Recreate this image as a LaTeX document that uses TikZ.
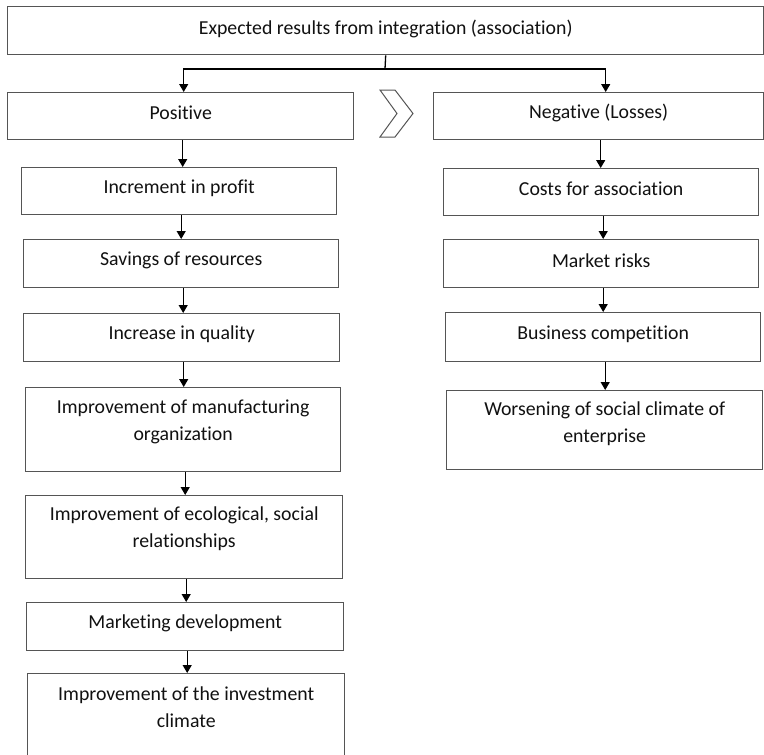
\documentclass[tikz,border=0pt]{standalone}
\usepackage{fontspec}
\setmainfont{Carlito}[Ligatures=NoCommon]
\usetikzlibrary{arrows.meta}

\definecolor{boxgray}{HTML}{555555}
\definecolor{inkgray}{HTML}{111111}

\tikzset{
  box/.style={draw=boxgray, line width=1.4pt, inner sep=0pt, anchor=north west},
  lbl/.style={inner sep=0pt, align=center, text=inkgray,
              font=\fontsize{19.8}{27}\selectfont},
  wire/.style={line width=1.3pt, black},
  arr/.style={wire, -{Triangle[width=9pt,length=8pt]}},
}

% name, x1, y1, x2, y2, text lift, text
\newcommand\flowbox[7]{%
  \node[box, minimum width={#4-#2}, minimum height={#5-#3}] (#1) at (#2,#3) {};
  \node[lbl] (#1-txt) at ([yshift=#6]#1.center) {#7};
}

\begin{document}
\begin{tikzpicture}[x=1pt, y=-1pt]
  \clip (0,0) rectangle (764,755);
  \fill[white] (0,0) rectangle (764,755);

  % heading
  \flowbox{top}{7}{6}{763}{54}{2pt}{Expected results from integration (association)}

  % the two branches
  \flowbox{pos}{7}{92}{353}{139}{3pt}{Positive}
  \flowbox{neg}{433}{92}{763}{139}{3pt}{Negative (Losses)}

  % separator chevron between the branches
  \draw[boxgray, line width=1pt, line join=miter]
    (380,90) -- (395,90) -- (413,113.5) -- (395,137) -- (380,137) -- (397,113.5) -- cycle;

  % positive effects
  \flowbox{inc}{21}{167}{336}{214}{3pt}{Increment in profit}
  \flowbox{sav}{23}{239}{338}{287}{3pt}{Savings of resources}
  \flowbox{qual}{23}{313}{339}{361}{3pt}{Increase in quality}
  \flowbox{manu}{25}{387}{340}{471}{7.5pt}{Improvement of manufacturing\\organization}
  \flowbox{eco}{25}{495}{342}{578}{8pt}{Improvement of ecological, social\\relationships}
  \flowbox{mkt}{26}{602}{343}{650}{3pt}{Marketing development}
  \flowbox{inv}{27}{673}{344}{757}{8.5pt}{Improvement of the investment\\climate}

  % negative effects
  \flowbox{cost}{443}{168}{758}{215}{3pt}{Costs for association}
  \flowbox{risk}{443}{239}{758}{287}{3pt}{Market risks}
  \flowbox{bus}{445}{312}{760}{361}{3pt}{Business competition}
  \flowbox{wors}{446}{390}{762}{469}{6pt}{Worsening of social climate of\\enterprise}

  % split from the heading
  \coordinate (split) at (385,69);
  \draw[wire] (top.south) -- (split);
  \draw[arr] (split) -| ([xshift=3pt]pos.north);
  \draw[arr] (split) -| ([xshift=7pt]neg.north);

  % chains
  \foreach \a/\b in {pos/inc, inc/sav, sav/qual, qual/manu, manu/eco, eco/mkt, mkt/inv,
                     neg/cost, cost/risk, risk/bus, bus/wors}{
    \draw[arr] ([xshift=2pt]\a.south) -- ([xshift=2pt]\a.south |- \b.north);
  }
\end{tikzpicture}
\end{document}
